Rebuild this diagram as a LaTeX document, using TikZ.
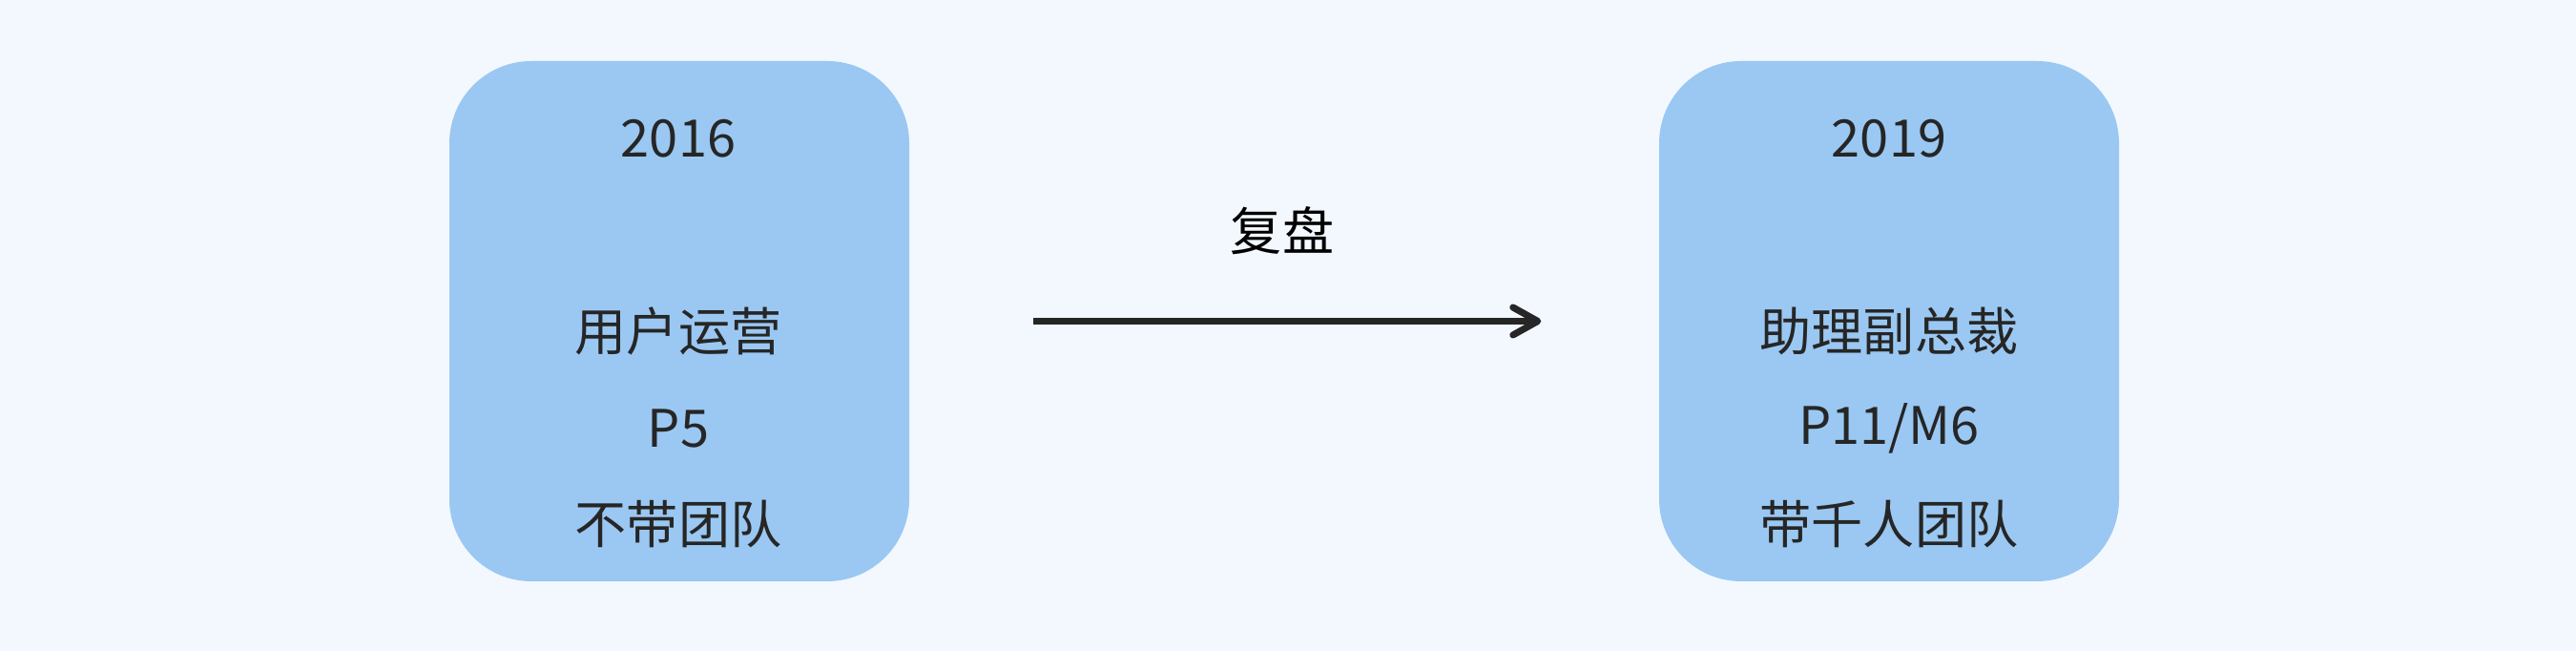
\documentclass[tikz,border=0pt]{standalone}
\usepackage{fontspec}
\setmainfont{Noto Sans CJK SC}
\usetikzlibrary{arrows.meta}
\definecolor{bgcol}{HTML}{F3F8FE}
\definecolor{boxcol}{HTML}{9AC8F2}
\definecolor{txtcol}{HTML}{262626}
\tikzset{
  card/.style={fill=boxcol, draw=none, rounded corners=0.86cm, minimum width=4.82cm, minimum height=5.45cm, inner sep=0pt},
  lbl/.style={text=txtcol, font=\fontsize{15.4}{18}\selectfont, inner sep=0pt},
  flow/.style={draw=txtcol, line width=2pt, -{Straight Barb[length=0.26cm, width=0.29cm, line cap=round, line join=round]}}
}
\begin{document}
\begin{tikzpicture}
\useasboundingbox (0,0) rectangle (27,6.82);
\fill[bgcol] (0,0) rectangle (27,6.82);
\node[card] (b1) at (7.12,3.455) {};
\node[card] (b2) at (19.80,3.455) {};
\node[lbl] (y1) at (7.11,5.37) {2016};
\node[lbl] (r1) at (7.11,3.35) {用户运营};
\node[lbl] (p1) at (7.11,2.33) {P5};
\node[lbl] (t1) at (7.11,1.33) {不带团队};
\node[lbl] (y2) at (19.80,5.37) {2019};
\node[lbl] (r2) at (19.80,3.35) {助理副总裁};
\node[lbl] (p2) at (19.80,2.33) {P11/M6};
\node[lbl] (t2) at (19.80,1.33) {带千人团队};
\node[lbl, text=black] (lab) at (13.44,4.40) {复盘};
\draw[flow, shorten <=1.29cm, shorten >=1.23cm] (b1.east) -- (b2.west);
\end{tikzpicture}
\end{document}
